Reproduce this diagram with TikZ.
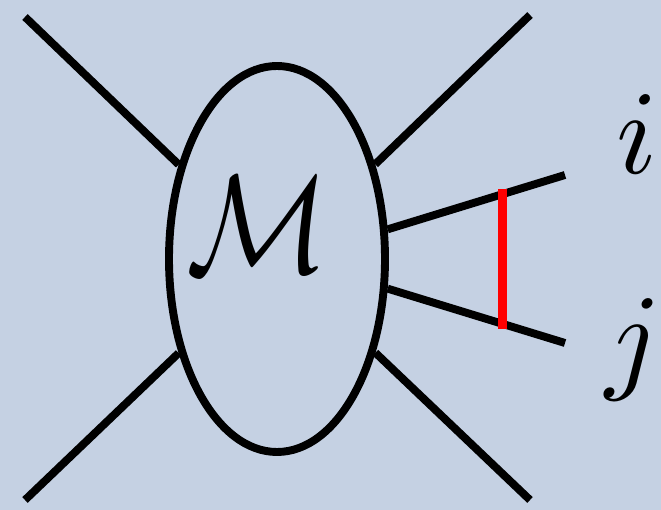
\documentclass[tikz,border=0pt]{standalone}
\usepackage{amsmath}
\usetikzlibrary{shapes.geometric,calc}

\definecolor{bgblue}{RGB}{197,209,227}

\begin{document}
\begin{tikzpicture}[
  blob/.style={
    ellipse,
    draw,
    line width=4.5pt,
    minimum width=4.32cm,
    minimum height=7.72cm,
    inner sep=0pt
  },
  leg/.style={
    line width=4.5pt
  },
  cut/.style={
    red,
    line width=5pt,
    shorten <=-2.9pt,
    shorten >=-2.9pt
  },
  label/.style={
    inner sep=0pt,
    scale=6.8
  }
]

\fill[bgblue, use as bounding box] (0,0) rectangle (13.22,10.20);

\node[blob] (m) at (5.54,5.02) {};
\node[inner sep=0pt, xscale=6.73, yscale=7.95] (mlab) at (5.16,5.71) {$\mathcal{M}$};

\coordinate (tl) at (0.50,9.86);
\coordinate (tr) at (10.60,9.90);
\coordinate (bl) at (0.50,0.20);
\coordinate (br) at (10.60,0.20);
\coordinate (pi) at (11.30,6.70);
\coordinate (pj) at (11.30,3.34);

\draw[leg] (tl) -- (m);
\draw[leg] (tr) -- (m);
\draw[leg] (bl) -- (m);
\draw[leg] (br) -- (m);

\draw[leg] (m.15) -- (pi);
\draw[leg] (m.-15) -- (pj);

\coordinate (ci) at ($(m.15)!0.647!(pi)$);
\coordinate (cj) at ($(m.-15)!0.647!(pj)$);
\draw[cut] (ci) -- (cj);

\node[label] (li) at (12.74,7.52) {$i$};
\node[label] (lj) at (12.68,3.20) {$j$};

\end{tikzpicture}
\end{document}
